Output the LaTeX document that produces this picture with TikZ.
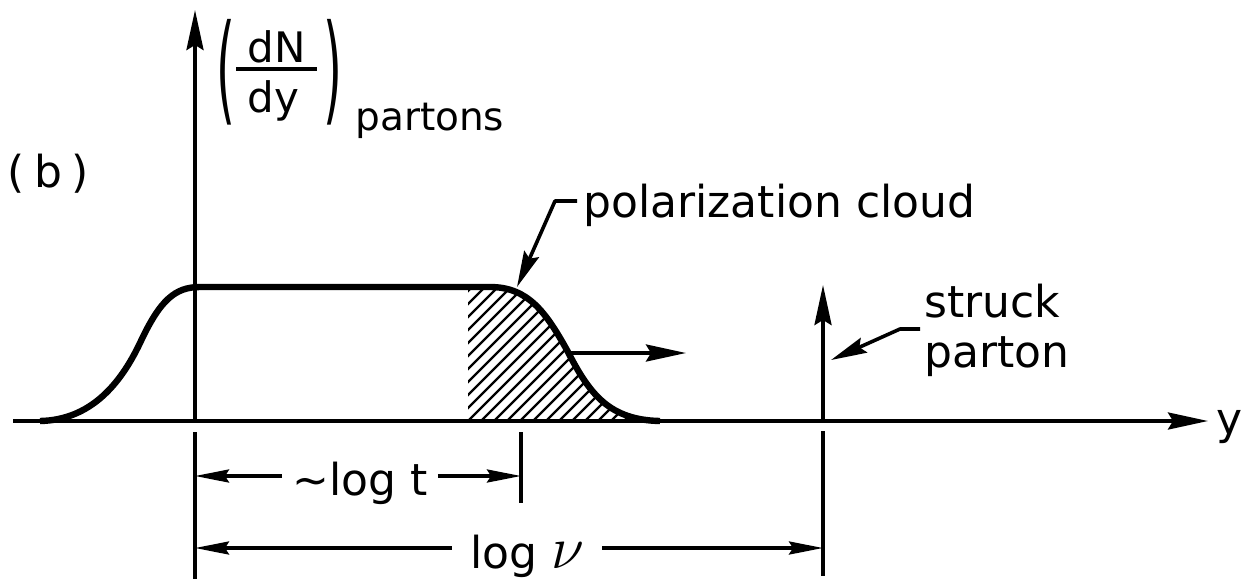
\documentclass[tikz,border=0pt]{standalone}
\usepackage{fontspec}
\usepackage{graphicx}
\setmainfont{DejaVu Sans}
\usetikzlibrary{arrows.meta}
\begin{document}
\begin{tikzpicture}[x=0.5pt,y=-0.5pt,
  bigarr/.style={line width=1.8pt,-{Stealth[length=20pt,width=8.5pt,inset=2.5pt]}},
  leadarr/.style={line width=1.8pt,line join=round,-{Stealth[length=18pt,width=8pt,inset=2.5pt]}},
  dimarr/.style={line width=1.7pt,-{Stealth[length=17pt,width=6.5pt,inset=2pt]}},
  dimline/.style={line width=1.7pt},
  curvestyle/.style={line width=3.2pt,line join=round},
  hatchline/.style={line width=1.1pt},
  lbl/.style={inner sep=0pt,font=\fontsize{22pt}{26pt}\selectfont},
]
\useasboundingbox[fill=white] (0,0) rectangle (1257,579);

% axes
\coordinate (O) at (195,421);
\coordinate (Ytop) at (195,10);
\coordinate (Xl) at (13,421);
\coordinate (Xr) at (1208,421);
\draw[bigarr] (Xl) -- (Xr);
\draw[bigarr] (O) -- (Ytop);

% hatching
\begin{scope}
\clip (468,421) -- (468,287) -- (490,287) .. controls (528,287) and (546,312) .. (568,352) .. controls (590,395) and (610,420) .. (660,421) -- cycle;
\foreach \i in {-12,...,16} \draw[hatchline] ({468+13*\i},421) -- ++(150,-150);
\end{scope}

% distribution curve
\draw[curvestyle] (40,421) .. controls (90,420) and (120,385) .. (140,343) .. controls (160,300) and (175,287) .. (200,287) -- (490,287) .. controls (528,287) and (546,312) .. (568,352) .. controls (590,395) and (610,420) .. (660,421);

% motion arrow
\coordinate (M0) at (568,353);
\coordinate (M1) at (686,353);
\draw[bigarr] (M0) -- (M1);

% struck parton
\coordinate (S0) at (823,421);
\coordinate (Stip) at (823,285);
\draw[bigarr] (S0) -- (Stip);

% labels
\node[lbl,anchor=base west] (b) at (7,187) {(\hspace{0.22em}b\hspace{0.22em})};
\node[inner sep=0pt,font=\fontsize{22pt}{24pt}\selectfont] (lp) at (226,72) {\scalebox{1.1}[2.7]{(}};
\node[inner sep=0pt,font=\fontsize{22pt}{24pt}\selectfont] (rp) at (333,72) {\scalebox{1.1}[2.7]{)}};
\node[inner sep=0pt,font=\fontsize{21pt}{24pt}\selectfont,anchor=base west] (dN) at (247,62) {dN};
\node[inner sep=0pt,font=\fontsize{21pt}{24pt}\selectfont,anchor=base west] (dy) at (247,112) {dy};
\draw[line width=1.7pt] (236,69) -- (317,69);
\node[inner sep=0pt,font=\fontsize{19.5pt}{22pt}\selectfont,anchor=base west] (partons) at (355,130) {partons};

\node[lbl,anchor=base west] (pol) at (583,217) {polarization cloud};
\coordinate (polbend) at (555,201);
\coordinate (poltip) at (517,287);
\draw[leadarr] ([xshift=-3pt]pol.west |- polbend) -- (polbend) -- (poltip);

\node[lbl,anchor=base west] (struck) at (924,317) {struck};
\node[lbl,anchor=base west] (parton) at (924,367) {parton};
\coordinate (sbend) at (900,329);
\coordinate (stip) at (831,360);
\draw[leadarr] ([xshift=-2pt]struck.west |- sbend) -- (sbend) -- (stip);

\node[lbl,anchor=base west] (ylab) at (1216,434) {y};

% dimension lines
\coordinate (tL1) at (195,432); \coordinate (tL2) at (195,579);
\coordinate (tM1) at (521,432); \coordinate (tM2) at (521,503);
\coordinate (tR1) at (823,431); \coordinate (tR2) at (823,576);
\draw[dimline] (tL1) -- (tL2);
\draw[dimline] (tM1) -- (tM2);
\draw[dimline] (tR1) -- (tR2);

\coordinate (ay1) at (0,476);
\coordinate (ay2) at (0,548);
\node[lbl,inner xsep=5pt,anchor=base] (logt) at (360,495) {\textasciitilde log t};
\draw[dimarr] (logt.west |- ay1) -- (tL1 |- ay1);
\draw[dimarr] (logt.east |- ay1) -- (tM1 |- ay1);

\node[lbl,inner xsep=9pt,anchor=base] (lognu) at (527,568) {log \scalebox{1.45}{$\nu$}};
\draw[dimarr] (lognu.west |- ay2) -- (tL1 |- ay2);
\draw[dimarr] (lognu.east |- ay2) -- (tR1 |- ay2);
\end{tikzpicture}
\end{document}
